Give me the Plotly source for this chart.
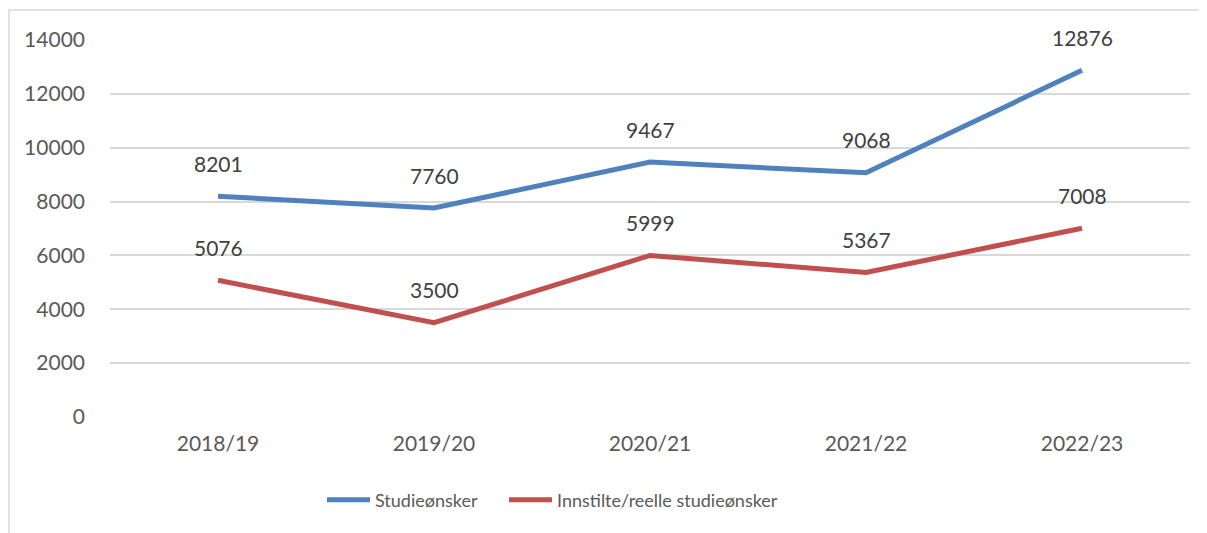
import plotly.graph_objects as go

years = ["2018/19", "2019/20", "2020/21", "2021/22", "2022/23"]
studieonsker = [8201, 7760, 9467, 9068, 12876]
innstilte = [5076, 3500, 5999, 5367, 7008]
y_ticks = [0, 2000, 4000, 6000, 8000, 10000, 12000, 14000]

FONT = "Lato"
GREY = "#595959"
BLUE = "#4f81bd"
RED = "#c0504d"

fig = go.Figure()
fig.add_trace(go.Scatter(x=years, y=studieonsker, mode="lines", name="Studieønsker",
                         line=dict(color=BLUE, width=5), legend="legend"))
fig.add_trace(go.Scatter(x=years, y=innstilte, mode="lines", name="Innstilte/reelle studieønsker",
                         line=dict(color=RED, width=5), legend="legend2"))

annotations = []
for series in (studieonsker, innstilte):
    for x, v in zip(years, series):
        annotations.append(dict(x=x, y=v, text=str(v), showarrow=False, yshift=33,
                                font=dict(family=FONT, size=21, color="#404040")))

leg_common = dict(orientation="h", xanchor="left", y=-0.22, yanchor="middle",
                  font=dict(family=FONT, size=18, color=GREY), itemwidth=43,
                  bgcolor="rgba(0,0,0,0)")

# page has an 8px body margin; compensate so the plot lands where the reference has it
fig.update_layout(
    width=1199, height=525,
    margin=dict(l=102, r=17, t=32, b=116, autoexpand=False),
    paper_bgcolor="white", plot_bgcolor="white",
    font=dict(family=FONT, size=21, color=GREY),
    showlegend=True,
    legend=dict(x=(322 - 110) / 1080, **leg_common),
    legend2=dict(x=(504 - 110) / 1080, **leg_common),
    annotations=annotations,
    xaxis=dict(type="category", range=[-0.5, 4.5], showgrid=False, zeroline=False,
               showline=False, ticks="", ticklabelstandoff=12, automargin=False,
               tickfont=dict(family=FONT, size=21, color=GREY)),
    yaxis=dict(range=[0, 14000], tickvals=y_ticks, tickformat="d", showgrid=True,
               gridcolor="#d9d9d9", gridwidth=1.5, zeroline=False, showline=False, ticks="",
               ticklabelstandoff=24, automargin=False,
               tickfont=dict(family=FONT, size=21, color=GREY)),
    shapes=[dict(type="rect", xref="paper", yref="paper",
                 x0=(9 - 110) / 1080, x1=1.3, y0=-0.8, y1=(417 - 10) / 377,
                 line=dict(color="#d9d9d9", width=1.5), fillcolor="rgba(0,0,0,0)",
                 layer="below")],
)

fig.write_html("out.html")
